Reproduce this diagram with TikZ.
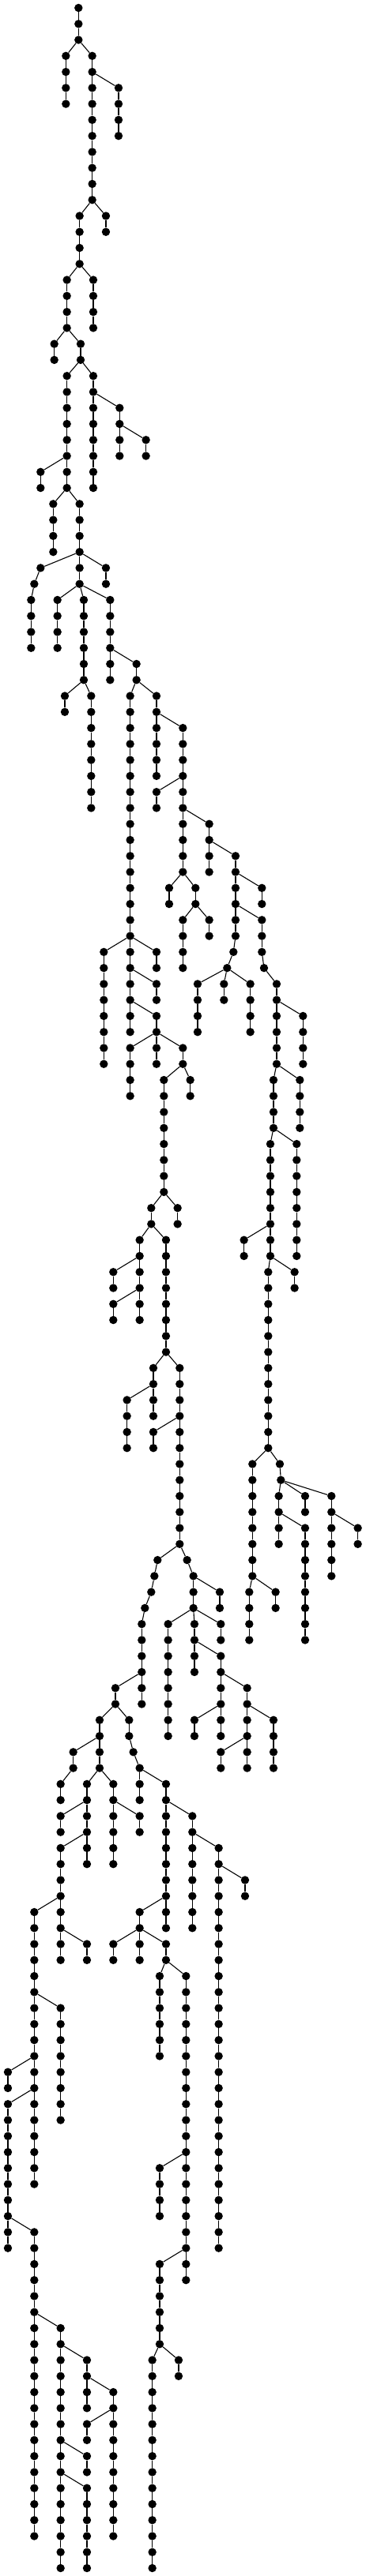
\documentclass[tikz,border=0pt]{standalone}
\begin{document}
\begin{tikzpicture}[x=0.33333pt,y=-20.27pt,
  dot/.style={circle,fill=black,draw=none,inner sep=0pt,minimum size=10.4pt},
  edge/.style={line width=1.1pt,black}]
\useasboundingbox (0,-0.4933) rectangle (1389,160.4933);
\node[dot] (v298l0) at (298,0) {};
\foreach \px/\la/\lb/\pa in {
298/1/2/v298l0,
250/3/6/v298l2,
350/3/12/v298l2,
450/5/8/v350l4,
302/13/16/v350l12,
402/13/14/v350l12,
254/17/20/v302l16,
354/17/20/v302l16,
206/21/22/v254l20,
306/21/22/v254l20,
254/23/30/v306l22,
354/23/30/v306l22,
454/25/28/v354l24,
554/27/28/v454l26,
154/29/30/v254l28,
202/31/34/v254l30,
302/31/36/v254l30,
154/35/35/v302l34,
130/36/36/v154l35,
118/37/40/v130l36,
402/35/36/v302l34,
218/37/40/v302l36,
318/37/42/v302l36,
418/37/42/v302l36,
518/41/42/v418l40,
246/43/44/v318l42,
346/43/50/v318l42,
494/43/64/v518l42,
594/43/48/v518l42,
694/45/54/v594l44,
594/49/50/v694l48,
794/51/54/v694l50,
894/53/58/v794l52,
886/59/59/v894l58,
862/60/60/v886l59,
994/55/56/v894l54,
994/57/59/v894l56,
1002/60/60/v994l59,
1050/61/66/v1002l60,
642/55/56/v694l54,
742/55/56/v694l54,
694/57/60/v742l56,
794/57/58/v742l56,
394/59/66/v494l58,
594/59/60/v494l58,
594/61/62/v494l60,
594/63/66/v494l62,
494/65/68/v594l64,
694/65/66/v594l64,
750/61/64/v862l60,
850/61/62/v862l60,
950/61/64/v862l60,
1150/63/66/v1050l62,
622/67/74/v694l66,
722/67/68/v694l66,
1038/67/70/v1050l66,
1138/67/70/v1050l66,
1026/71/78/v1038l70,
1126/71/78/v1038l70,
574/75/76/v622l74,
674/75/76/v622l74,
530/77/82/v574l76,
630/77/84/v574l76,
926/77/78/v1026l76,
430/79/80/v530l78,
1018/79/90/v1026l78,
1118/79/80/v1026l78,
430/81/82/v530l80,
582/85/88/v630l84,
682/85/96/v630l84,
482/87/90/v582l86,
582/89/90/v682l88,
958/91/98/v1018l90,
946/99/102/v958l98,
1046/99/100/v958l98,
1062/91/91/v1018l90,
1066/92/92/v1062l91,
1058/93/96/v1066l92,
1158/93/94/v1066l92,
1258/93/98/v1066l92,
1158/95/102/v1058l94,
1358/95/96/v1258l94,
598/97/97/v682l96,
586/98/98/v598l97,
574/99/99/v586l98,
550/100/100/v574l99,
538/101/106/v550l100,
710/97/97/v682l96,
734/98/100/v710l97,
834/99/100/v734l98,
638/101/108/v734l100,
738/101/104/v734l100,
838/101/102/v734l100,
838/103/108/v738l102,
438/105/106/v538l104,
938/105/110/v838l104,
738/107/108/v838l106,
1038/107/110/v938l106,
378/107/110/v438l106,
490/107/108/v438l106,
506/109/109/v490l108,
530/110/112/v506l109,
838/109/110/v938l108,
278/109/110/v378l108,
230/111/112/v278l110,
330/111/116/v378l110,
430/111/116/v378l110,
630/111/120/v530l110,
530/113/114/v430l112,
730/113/120/v630l112,
230/113/114/v330l112,
230/115/122/v330l114,
830/115/140/v730l114,
930/117/118/v830l116,
130/119/136/v230l118,
530/119/122/v630l118,
330/121/122/v230l120,
430/121/122/v530l120,
630/121/122/v530l120,
606/123/128/v630l122,
706/123/142/v630l122,
230/125/132/v130l124,
30/129/130/v130l128,
30/131/140/v130l130,
606/135/138/v706l134,
130/139/158/v30l138,
606/141/146/v706l140,
230/145/160/v130l144,
330/147/150/v230l146,
578/147/160/v606l146,
678/147/148/v606l146,
430/149/158/v330l148,
330/151/152/v430l150,
330/153/154/v230l152,
330/155/160/v230l154}{
  \foreach \k in {\la,...,\lb}{
    \pgfmathtruncatemacro\km{\k-1}
    \node[dot] (v\px l\k) at (\px,\k) {};
    \ifnum\k=\la
      \draw[edge] (\pa) -- (v\px l\k);
    \else
      \draw[edge] (v\px l\km) -- (v\px l\k);
    \fi
  }
}
\end{tikzpicture}
\end{document}
